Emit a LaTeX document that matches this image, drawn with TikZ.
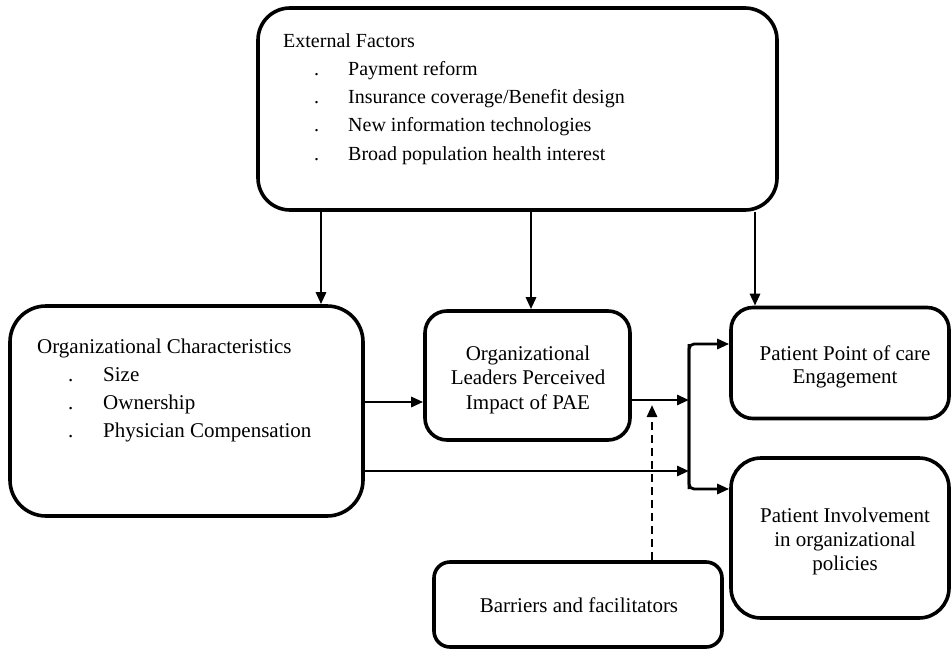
\documentclass[tikz,border=0pt]{standalone}
\usepackage{fontspec}
\setmainfont{Liberation Serif}
\usetikzlibrary{arrows.meta}
\tikzset{
  box/.style={draw, line width=3.6pt, rounded corners=#1, inner sep=0pt},
  box/.default=30pt,
  txt/.style={inner sep=0pt, anchor=base west, align=left},
  ctxt/.style={inner sep=0pt, anchor=base, align=center},
  arr/.style={line width=2.8pt, -{Triangle[length=12pt,width=10pt]}},
  darr/.style={arr, dash pattern=on 8pt off 5pt},
}
\newcommand{\bul}{\hspace*{31pt}\makebox[34pt][l]{.}}
\newcommand{\bulb}{\hspace*{31pt}\makebox[35pt][l]{.}}
\begin{document}
\begin{tikzpicture}[x=1pt,y=-1pt]
\useasboundingbox (0,0) rectangle (952,650);
% boxes
\node[box=32pt, minimum width=519pt, minimum height=202pt] (ext) at (517.5,109) {};
\node[box=36pt, minimum width=353pt, minimum height=210pt] (org) at (186.5,411) {};
\node[box=22pt, minimum width=205pt, minimum height=129pt] (lead) at (527.5,375.5) {};
\node[box=22pt, minimum width=218pt, minimum height=111pt] (pp) at (840,363) {};
\node[box=30pt, minimum width=218pt, minimum height=160pt] (pi) at (840,538) {};
\node[box=16pt, minimum width=288pt, minimum height=85pt] (bar) at (578,604.5) {};
% texts (anchor base = baseline of last line)
\node[txt, font=\fontsize{20}{28.2}\selectfont] (extt) at (283,160)
  {External Factors\\
   \bul Payment reform\\
   \bul Insurance coverage/Benefit design\\
   \bul New information technologies\\
   \bul Broad population health interest};
\node[txt, font=\fontsize{21}{28}\selectfont] (orgt) at (37,437)
  {Organizational Characteristics\\
   \bulb Size\\
   \bulb Ownership\\
   \bulb Physician Compensation};
\node[ctxt, font=\fontsize{21}{24.5}\selectfont] (leadt) at (528,409)
  {Organizational\\Leaders Perceived\\Impact of PAE};
\node[ctxt, font=\fontsize{21}{23}\selectfont] (ppt) at (845,383)
  {Patient Point of care\\Engagement};
\node[ctxt, font=\fontsize{21}{24}\selectfont] (pit) at (845,570)
  {Patient Involvement\\in organizational\\policies};
\node[ctxt, font=\fontsize{21}{24}\selectfont] (bart) at (579,612)
  {Barriers and facilitators};
% helper coordinates
\coordinate (xa) at (321,0);
\coordinate (xb) at (531,0);
\coordinate (xc) at (755,0);
\coordinate (ya) at (0,402);
\coordinate (yb) at (0,400);
\coordinate (yc) at (0,471);
\coordinate (jt) at (689,344);
\coordinate (jb) at (689,489);
\coordinate (jm) at (689,400);
\coordinate (jl) at (689,471);
\coordinate (dx) at (652,0);
\coordinate (dtip) at (652,405);
% arrows from external factors
\draw[arr] (ext.south -| xa) -- (org.north -| xa);
\draw[arr] (ext.south -| xb) -- (lead.north -| xb);
\draw[arr] (ext.south -| xc) -- (pp.north -| xc);
% horizontal arrows
\draw[arr] (org.east |- ya) -- (lead.west |- ya);
\draw[arr] (lead.east |- yb) -- (jm);
\draw[arr] (org.east |- yc) -- (jl);
% junction
\draw[arr, rounded corners=5pt] (jb) -- (jt) -- (pp.west |- jt);
\draw[arr, rounded corners=5pt] (jt) -- (jb) -- (pi.west |- jb);
% dashed
\draw[darr] (bar.north -| dx) -- (dtip);
\end{tikzpicture}
\end{document}
